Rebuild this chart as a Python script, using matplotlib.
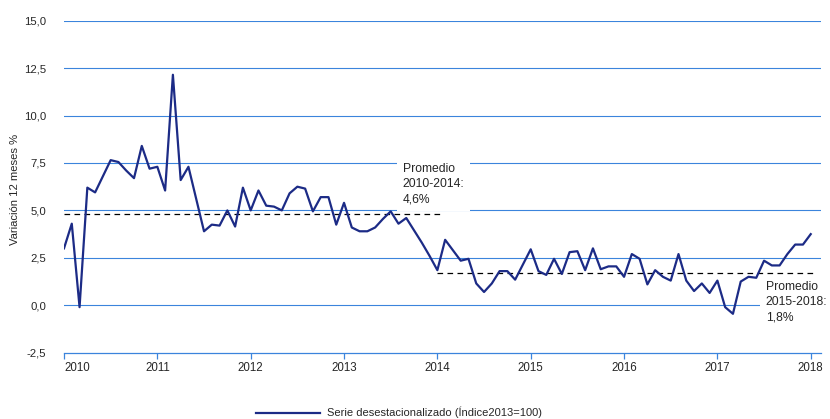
import numpy as np
import matplotlib
matplotlib.use("Agg")
import matplotlib.pyplot as plt
from matplotlib.ticker import FuncFormatter

plt.rcParams['font.family'] = ['Liberation Sans', 'DejaVu Sans']

# monthly 12-month variation, Jan 2010 .. Jan 2018
v2010 = [3.0, 4.3, -0.1, 6.2, 5.95, 6.8, 7.65, 7.55, 7.1, 6.7, 8.4, 7.2]
v2011 = [7.3, 6.05, 12.15, 6.6, 7.3, 5.6, 3.9, 4.25, 4.2, 5.0, 4.15, 6.2]
v2012 = [5.0, 6.05, 5.25, 5.2, 5.0, 5.9, 6.25, 6.15, 4.95, 5.7, 5.7, 4.25]
v2013 = [5.4, 4.1, 3.9, 3.9, 4.1, 4.55, 4.95, 4.3, 4.6, 3.95, 3.3, 2.6]
v2014 = [1.85, 3.45, 2.9, 2.35, 2.45, 1.15, 0.7, 1.15, 1.8, 1.8, 1.35, 2.15]
v2015 = [2.95, 1.8, 1.6, 2.45, 1.65, 2.8, 2.85, 1.85, 3.0, 1.9, 2.05, 2.05]
v2016 = [1.5, 2.7, 2.45, 1.1, 1.85, 1.5, 1.3, 2.7, 1.3, 0.75, 1.15, 0.65]
v2017 = [1.3, -0.1, -0.45, 1.25, 1.5, 1.45, 2.35, 2.1, 2.1, 2.7, 3.2, 3.2]
v2018 = [3.75]

values = v2010 + v2011 + v2012 + v2013 + v2014 + v2015 + v2016 + v2017 + v2018
dates = 2010 + np.arange(len(values)) / 12.0

avg_1 = 4.8   # promedio 2010-2014 (as drawn)
avg_2 = 1.7   # promedio 2015-2018 (as drawn)
years = list(range(2010, 2019))
yticks = [-2.5, 0.0, 2.5, 5.0, 7.5, 10.0, 12.5, 15.0]

grid_blue = '#3B84DC'
line_blue = '#1C2B86'
txt = '#262626'

fig = plt.figure(figsize=(8.3, 4.19), dpi=100)
ax = fig.add_axes([64 / 830, 1 - 352.7 / 419, (821 - 64) / 830, (352.7 - 20.7) / 419])

for y in yticks[1:]:
    ax.axhline(y, color=grid_blue, lw=0.8, zorder=1)

ax.plot([2010, 2014.06], [avg_1, avg_1], color='black', lw=0.9, ls=(0, (4.5, 3.5)), zorder=2)
ax.plot([2014.0, 2018.05], [avg_2, avg_2], color='black', lw=0.9, ls=(0, (4.5, 3.5)), zorder=2)

ax.plot(dates, values, color=line_blue, lw=1.6, zorder=4,
        label='Serie desestacionalizado (Índice2013=100)')

ax.set_xlim(2010, 2018.11)
ax.set_ylim(-2.5, 15)
ax.set_yticks(yticks)
ax.yaxis.set_major_formatter(FuncFormatter(lambda v, p: f"{v:.1f}".replace('.', ',')))
ax.set_xticks(years)
ax.set_xticklabels([str(y) for y in years])
ax.get_xticklabels()[0].set_horizontalalignment('left')

for s in ['top', 'right', 'left']:
    ax.spines[s].set_visible(False)
ax.spines['bottom'].set_color(grid_blue)
ax.spines['bottom'].set_linewidth(0.9)
ax.tick_params(axis='x', colors=grid_blue, length=4.5, width=0.9, pad=2, labelsize=8.3, labelcolor=txt)
ax.tick_params(axis='y', length=0, pad=13, labelsize=8.2, labelcolor=txt)

fig.text(15 / 830, 1 - 189 / 419, 'Variación 12 meses %', rotation=90,
         ha='center', va='center', fontsize=8.1, color=txt)

ax.text(2013.63, 6.38, 'Promedio\n2010-2014:\n4,6%', ha='left', va='center',
        fontsize=8.7, color=txt, linespacing=1.33, zorder=3,
        bbox=dict(facecolor='white', edgecolor='none', pad=4))
ax.text(2017.52, 0.16, 'Promedio\n2015-2018:\n1,8%', ha='left', va='center',
        fontsize=8.7, color=txt, linespacing=1.33, zorder=3, clip_on=False,
        bbox=dict(facecolor='white', edgecolor='none', pad=4))

fig.legend(loc='center left', bbox_to_anchor=(256 / 830, 1 - 412.7 / 419),
           frameon=False, fontsize=8, handlelength=5.8, handletextpad=0.55,
           borderpad=0, borderaxespad=0, labelcolor=txt)

fig.savefig('out.png', dpi=100)
